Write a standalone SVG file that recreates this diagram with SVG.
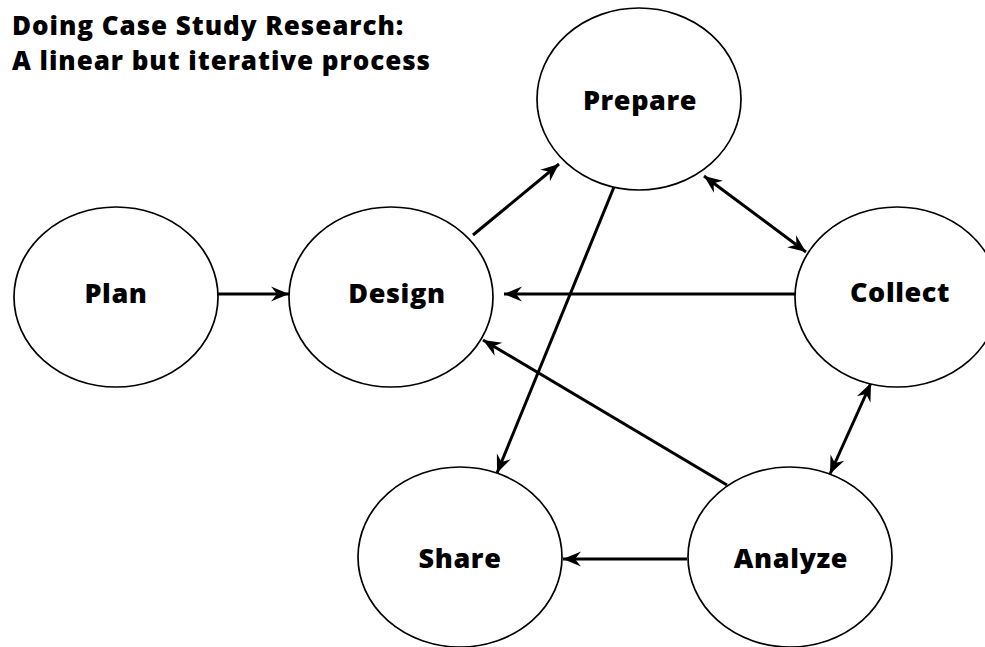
<svg xmlns="http://www.w3.org/2000/svg" width="985" height="647" viewBox="0 0 985 647">
<style>
.node ellipse{fill:#fff;stroke:#000;stroke-width:1.7}
.node text{font-family:"Open Sans","Noto Sans","Liberation Sans",sans-serif;font-weight:800;font-size:27px;letter-spacing:0.6px;text-anchor:middle;fill:#000}
.title{font-family:"Open Sans","Noto Sans","Liberation Sans",sans-serif;font-weight:800;font-size:26px;letter-spacing:0.95px;fill:#000}
#connectors line{stroke:#000;stroke-width:3;fill:none}
.a{marker-end:url(#ah)}
.b{marker-start:url(#ah);marker-end:url(#ah)}
</style>
<defs>
<marker id="ah" markerUnits="userSpaceOnUse" viewBox="-19 -9 21 18" refX="0" refY="0" markerWidth="21" markerHeight="18" orient="auto-start-reverse">
<path d="M0,0 L-18,-7.5 L-12,0 L-18,7.5 Z" fill="#000"/>
</marker>
</defs>
<rect width="985" height="647" fill="#fff"/>
<text class="title" x="12" y="35">Doing Case Study Research:</text>
<text class="title" x="12" y="70">A linear but iterative process</text>
<g id="connectors">
<line class="a" x1="218" y1="294" x2="289" y2="294"/>
<line class="a" x1="473" y1="235" x2="559" y2="164"/>
<line class="b" x1="704" y1="176" x2="806" y2="252"/>
<line class="a" x1="795" y1="294" x2="504" y2="294"/>
<line class="a" x1="614" y1="187" x2="497" y2="473"/>
<line class="a" x1="727" y1="485" x2="483" y2="340"/>
<line class="a" x1="687" y1="559" x2="563" y2="559"/>
<line class="b" x1="871" y1="383" x2="830" y2="474"/>
</g>
<g id="plan" class="node"><ellipse cx="116" cy="297" rx="102" ry="90"/><text x="116" y="303">Plan</text></g>
<g id="design" class="node"><ellipse cx="391" cy="297" rx="102" ry="90"/><text x="397" y="303">Design</text></g>
<g id="prepare" class="node"><ellipse cx="639" cy="99" rx="102" ry="91"/><text x="640" y="110">Prepare</text></g>
<g id="collect" class="node"><ellipse cx="897" cy="297" rx="102" ry="90"/><text x="900" y="302">Collect</text></g>
<g id="share" class="node"><ellipse cx="460" cy="557" rx="102" ry="90"/><text x="460" y="568">Share</text></g>
<g id="analyze" class="node"><ellipse cx="790" cy="557" rx="102" ry="90"/><text x="791" y="568">Analyze</text></g>
</svg>
